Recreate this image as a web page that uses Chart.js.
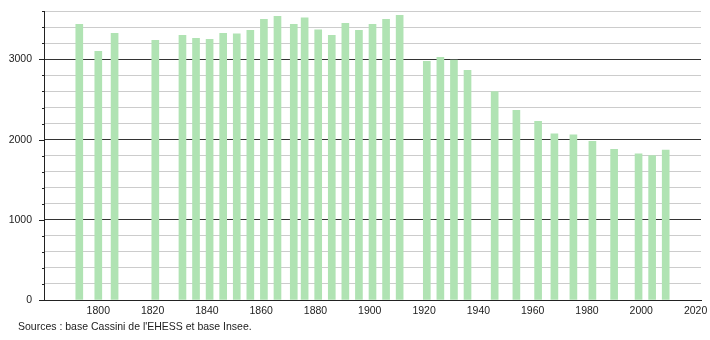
<!DOCTYPE html>
<html>
<head>
<meta charset="utf-8">
<script src="https://cdn.jsdelivr.net/npm/chart.js@4/dist/chart.umd.min.js"></script>
<style>
  body { margin: 0; background: #fff; }
  #wrap { position: relative; width: 710px; height: 340px; overflow: hidden; }
  #pop { position: absolute; left: 0; top: -7px; }
  #src {
    position: absolute; left: 18px; top: 320px;
    font: 10.5px "Liberation Sans", Arial, sans-serif; color: #222;
  }
</style>
</head>
<body>
<div id="wrap">
  <canvas id="pop" width="710" height="347"></canvas>
  <div id="src">Sources : base Cassini de l'EHESS et base Insee.</div>
</div>
<script>
// années de recensement et population
const years = [1793, 1800, 1806, 1821, 1831, 1836, 1841, 1846, 1851, 1856,
  1861, 1866, 1872, 1876, 1881, 1886, 1891, 1896, 1901, 1906, 1911,
  1921, 1926, 1931, 1936, 1946, 1954, 1962, 1968, 1975, 1982, 1990,
  1999, 2004, 2009];
const population = [3437, 3101, 3325, 3238, 3300, 3263, 3250, 3325, 3320, 3362,
  3499, 3537, 3437, 3520, 3370, 3300, 3450, 3362, 3437, 3499, 3549,
  2976, 3026, 2993, 2864, 2599, 2366, 2229, 2071, 2059, 1980, 1880,
  1822, 1802, 1868];
const xTicks = [1800, 1820, 1840, 1860, 1880, 1900, 1920, 1940, 1960, 1980, 2000, 2020];
const yLabels = [0, 1000, 2000, 3000];

const font = { family: '"Liberation Sans", Arial, sans-serif', size: 10.5 };

// petits traits sur l'axe vertical (longs pour les milliers)
const yTickMarks = {
  id: 'yTickMarks',
  afterDraw(chart) {
    const { ctx, scales: { y }, chartArea } = chart;
    ctx.save();
    ctx.strokeStyle = '#222';
    ctx.lineWidth = 1;
    for (let v = 0; v <= 3600; v += 200) {
      const py = Math.round(y.getPixelForValue(v)) + 0.5;
      const len = v % 1000 === 0 ? 5 : 2;
      ctx.beginPath();
      ctx.moveTo(chartArea.left - len, py);
      ctx.lineTo(chartArea.left, py);
      ctx.stroke();
    }
    ctx.restore();
  }
};

new Chart(document.getElementById('pop'), {
  type: 'bar',
  data: {
    datasets: [{
      data: years.map((yr, i) => ({ x: yr, y: population[i] })),
      backgroundColor: '#b0e3b3',
      borderWidth: 0,
      barThickness: 7
    }]
  },
  options: {
    responsive: false,
    animation: false,
    layout: { padding: { top: 4, right: 9, left: 0, bottom: 0 } },
    plugins: { legend: { display: false }, tooltip: { enabled: false } },
    scales: {
      x: {
        type: 'linear',
        offset: false,
        min: 1780,
        max: 2022,
        afterBuildTicks: s => { s.ticks = xTicks.map(v => ({ value: v })); },
        afterFit: s => { s.height = 40; s.paddingRight = 0; s.paddingLeft = 0; },
        grid: { display: false, drawTicks: false, offset: false },
        border: { color: '#222', width: 1 },
        ticks: { color: '#222', font, padding: 5, maxRotation: 0, callback: v => String(v) }
      },
      y: {
        min: 0,
        max: 3600,
        ticks: {
          stepSize: 200,
          color: '#222',
          font,
          padding: 12,
          callback: v => yLabels.includes(v) ? String(v) : ''
        },
        afterFit: s => { s.width = 44; },
        grid: {
          drawTicks: false,
          color: ctx => ctx.tick && ctx.tick.value % 1000 === 0 ? '#333' : '#ccc',
          lineWidth: 1
        },
        border: { color: '#222', width: 1 }
      }
    }
  },
  plugins: [yTickMarks]
});
</script>
</body>
</html>
